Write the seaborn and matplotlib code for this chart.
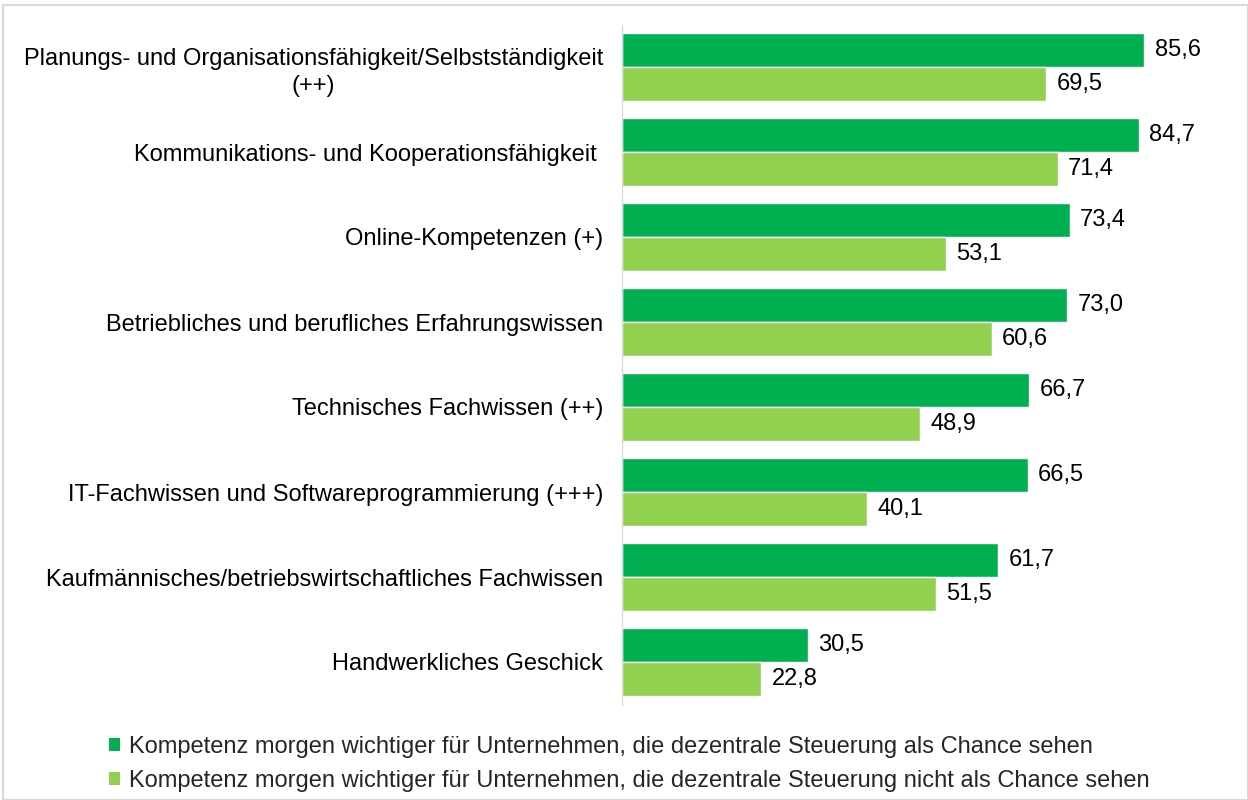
import matplotlib
matplotlib.use("Agg")
import matplotlib.pyplot as plt
import seaborn as sns
import pandas as pd
from matplotlib.patches import Rectangle, Patch

categories = [
    "Planungs- und Organisationsfähigkeit/Selbstständigkeit\n(++)",
    "Kommunikations- und Kooperationsfähigkeit ",
    "Online-Kompetenzen (+)",
    "Betriebliches und berufliches Erfahrungswissen",
    "Technisches Fachwissen (++)",
    "IT-Fachwissen und Softwareprogrammierung (+++)",
    "Kaufmännisches/betriebswirtschaftliches Fachwissen",
    "Handwerkliches Geschick",
]
series_names = [
    "Kompetenz morgen wichtiger für Unternehmen, die dezentrale Steuerung als Chance sehen",
    "Kompetenz morgen wichtiger für Unternehmen, die dezentrale Steuerung nicht als Chance sehen",
]
values_chance = [85.6, 84.7, 73.4, 73.0, 66.7, 66.5, 61.7, 30.5]
values_no_chance = [69.5, 71.4, 53.1, 60.6, 48.9, 40.1, 51.5, 22.8]
colors = ["#00B050", "#92D050"]

df = pd.DataFrame({
    "Kompetenz": categories * 2,
    "Wert": values_chance + values_no_chance,
    "Gruppe": [series_names[0]] * len(categories) + [series_names[1]] * len(categories),
})

sns.set_theme(style="white")
plt.rcParams["font.family"] = ["Liberation Sans", "DejaVu Sans"]

FS = 17

fig = plt.figure(figsize=(12.48, 8), dpi=100)
ax = fig.add_axes([622 / 1248, 1 - 704.5 / 800, (1240 - 622) / 1248, (704.5 - 24.5) / 800])

sns.barplot(data=df, y="Kompetenz", x="Wert", hue="Gruppe", order=categories,
            hue_order=series_names, palette=colors, orient="h", width=0.8,
            saturation=1, ax=ax, legend=False)

for cont in ax.containers:
    labs = [f"{b.get_width():.1f}".replace(".", ",") for b in cont]
    ax.bar_label(cont, labels=labs, padding=7.5, fontsize=FS, color="black")

ax.set_xlim(0, (1240 - 622) / 6.1)
ax.set_ylim(7.5, -0.5)
ax.set_xlabel("")
ax.set_ylabel("")
ax.set_xticks([])
ax.tick_params(axis="y", length=0, pad=13.7, labelsize=FS, labelcolor="black")
for t in ax.get_yticklabels():
    t.set_multialignment("center")
    t.set_linespacing(1.35)
for s in ["top", "right", "bottom"]:
    ax.spines[s].set_visible(False)
ax.spines["left"].set_color("#D9D9D9")
ax.spines["left"].set_linewidth(1)

handles = [Patch(facecolor=c, edgecolor="none") for c in colors]
fig.legend(handles, series_names, loc="upper left",
           bbox_to_anchor=(109 / 1248, 1 - 736 / 800), frameon=False,
           fontsize=FS, handlelength=0.45, handleheight=0.45, handletextpad=0.4,
           labelspacing=0.5, borderpad=0, borderaxespad=0)

fig.patches.append(Rectangle((3 / 1248, 0), 1 - 3 / 1248, 1 - 5 / 800,
                             transform=fig.transFigure, fill=False,
                             edgecolor="#D9D9D9", linewidth=1.5))

fig.savefig("out.png", dpi=100)
